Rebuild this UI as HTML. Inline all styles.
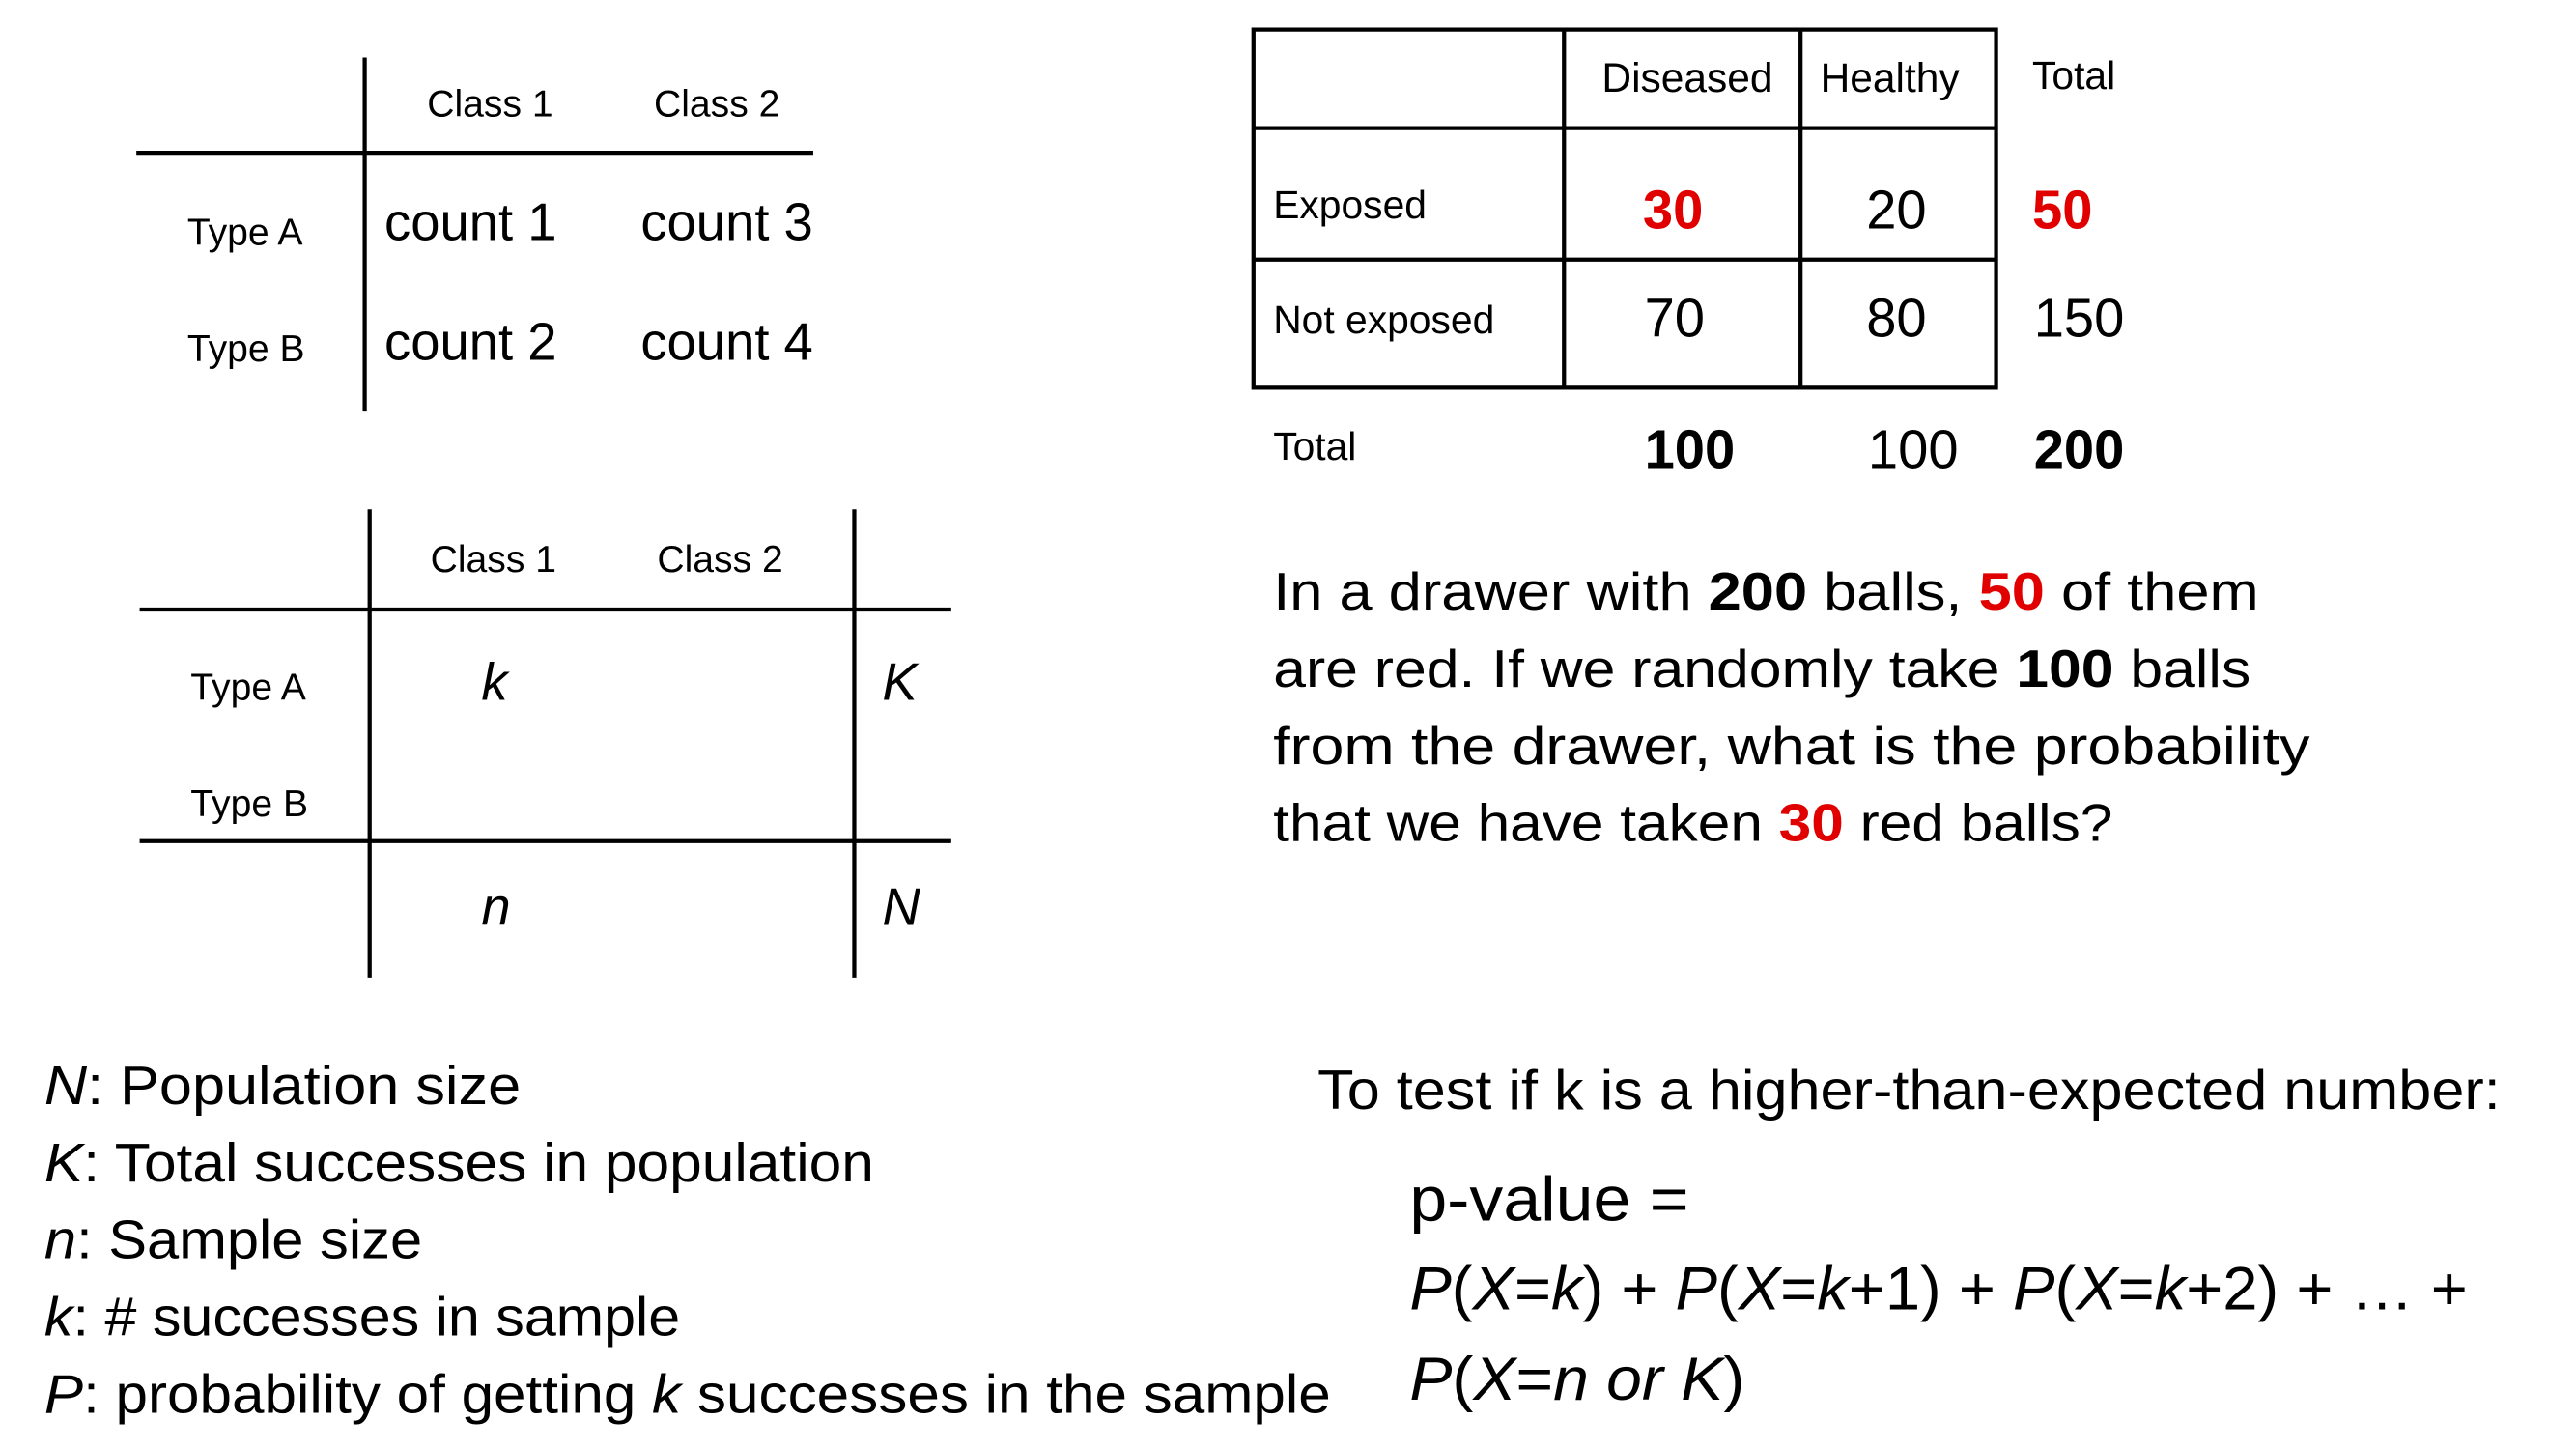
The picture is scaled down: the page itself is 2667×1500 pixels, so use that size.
<!DOCTYPE html>
<html><head><meta charset="utf-8"><style>
html,body{margin:0;padding:0;background:#fff;}
svg{display:block;}
text{font-family:"Liberation Sans",sans-serif;fill:#000;}
.r{fill:#e00000;font-weight:bold;}
.b{font-weight:bold;}
.i{font-style:italic;}
</style></head><body>
<svg width="2667" height="1500" viewBox="0 0 1568 882" preserveAspectRatio="none" xmlns="http://www.w3.org/2000/svg">
<g stroke="#000" stroke-width="2.5">
<line x1="83" y1="93" x2="495" y2="93"/><line x1="222" y1="35" x2="222" y2="250"/>
</g>
<g font-size="23">
<text x="260" y="71">Class 1</text><text x="398" y="71">Class 2</text>
<text x="114" y="149">Type A</text><text x="114" y="220">Type B</text>
<text x="234" y="146" font-size="32">count 1</text><text x="390" y="146" font-size="32">count 3</text>
<text x="234" y="219" font-size="32">count 2</text><text x="390" y="219" font-size="32">count 4</text>
</g>
<g stroke="#000" stroke-width="2.5">
<line x1="225" y1="310" x2="225" y2="595"/><line x1="520" y1="310" x2="520" y2="595"/>
<line x1="85" y1="371" x2="579" y2="371"/><line x1="85" y1="512" x2="579" y2="512"/>
</g>
<g font-size="23">
<text x="262" y="348">Class 1</text><text x="400" y="348">Class 2</text>
<text x="116" y="426">Type A</text><text x="116" y="497">Type B</text>
<text class="i" x="293" y="426" font-size="32">k</text><text class="i" x="537" y="426" font-size="32">K</text>
<text class="i" x="293" y="563" font-size="32">n</text><text class="i" x="537" y="563" font-size="32">N</text>
</g>
<g stroke="#000" stroke-width="2.5" fill="none">
<rect x="763" y="18" width="452" height="218"/>
<line x1="952" y1="18" x2="952" y2="236"/><line x1="1096" y1="18" x2="1096" y2="236"/>
<line x1="763" y1="78" x2="1215" y2="78"/><line x1="763" y1="158" x2="1215" y2="158"/>
</g>
<g font-size="24">
<text x="975" y="56" font-size="25">Diseased</text><text x="1108" y="56" font-size="25">Healthy</text><text x="1237" y="54">Total</text>
<text x="775" y="133">Exposed</text><text class="r" x="1000" y="139" font-size="33">30</text><text x="1136" y="139" font-size="33">20</text><text class="r" x="1237" y="139" font-size="33">50</text>
<text x="775" y="203">Not exposed</text><text x="1001" y="205" font-size="33">70</text><text x="1136" y="205" font-size="33">80</text><text x="1238" y="205" font-size="33">150</text>
<text x="775" y="280">Total</text><text class="b" x="1001" y="285" font-size="33">100</text><text x="1137" y="285" font-size="33">100</text><text class="b" x="1238" y="285" font-size="33">200</text>
</g>
<g font-size="32">
<text x="775" y="371" textLength="600" lengthAdjust="spacingAndGlyphs">In a drawer with <tspan class="b">200</tspan> balls, <tspan class="r">50</tspan> of them</text>
<text x="775" y="418" textLength="595" lengthAdjust="spacingAndGlyphs">are red. If we randomly take <tspan class="b">100</tspan> balls</text>
<text x="775" y="465" textLength="631" lengthAdjust="spacingAndGlyphs">from the drawer, what is the probability</text>
<text x="775" y="512" textLength="511" lengthAdjust="spacingAndGlyphs">that we have taken <tspan class="r">30</tspan> red balls?</text>
</g>
<g font-size="33">
<text x="27" y="672" textLength="290" lengthAdjust="spacingAndGlyphs"><tspan class="i">N</tspan>:  Population size</text>
<text x="27" y="719" textLength="505" lengthAdjust="spacingAndGlyphs"><tspan class="i">K</tspan>:  Total successes in population</text>
<text x="27" y="766" textLength="230" lengthAdjust="spacingAndGlyphs"><tspan class="i">n</tspan>:  Sample size</text>
<text x="27" y="813" textLength="387" lengthAdjust="spacingAndGlyphs"><tspan class="i">k</tspan>:  # successes in sample</text>
<text x="27" y="860" textLength="783" lengthAdjust="spacingAndGlyphs"><tspan class="i">P</tspan>: probability of getting <tspan class="i">k</tspan> successes in the sample</text>
</g>
<g font-size="34">
<text x="802" y="675" textLength="720" lengthAdjust="spacingAndGlyphs">To test if k is a higher-than-expected number:</text>
<text x="858" y="743" font-size="38" textLength="170" lengthAdjust="spacingAndGlyphs">p-value =</text>
<text x="858" y="797" font-size="37" textLength="644" lengthAdjust="spacingAndGlyphs"><tspan class="i">P</tspan>(<tspan class="i">X</tspan>=<tspan class="i">k</tspan>) + <tspan class="i">P</tspan>(<tspan class="i">X</tspan>=<tspan class="i">k</tspan>+1) + <tspan class="i">P</tspan>(<tspan class="i">X</tspan>=<tspan class="i">k</tspan>+2) + … +</text>
<text x="858" y="852" font-size="37" textLength="204" lengthAdjust="spacingAndGlyphs"><tspan class="i">P</tspan>(<tspan class="i">X</tspan>=<tspan class="i">n or K</tspan>)</text>
</g>
</svg>
</body></html>
